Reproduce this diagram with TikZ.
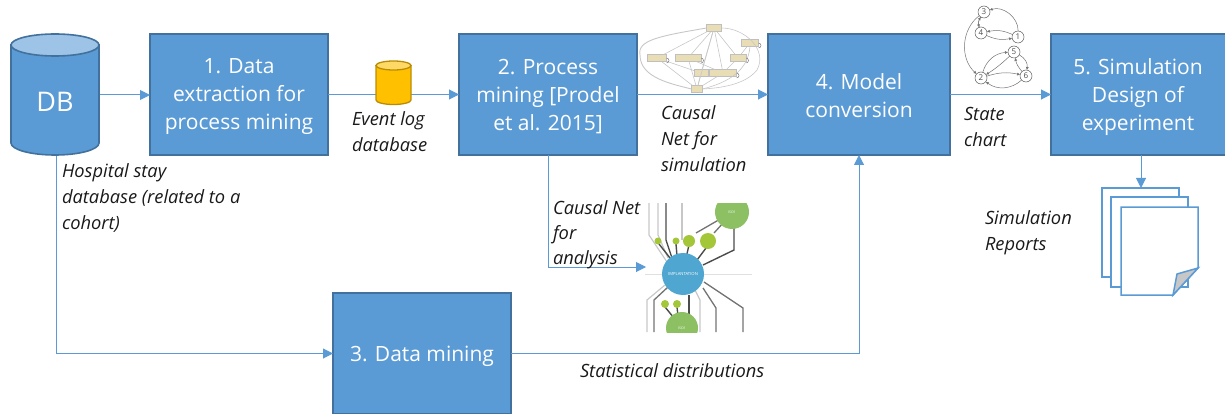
\documentclass[tikz,border=0pt]{standalone}
\usepackage{fontspec}
\setmainfont{Open Sans}
\usetikzlibrary{arrows.meta}
\definecolor{bfill}{HTML}{5B9BD5}
\definecolor{bedge}{HTML}{41719C}
\definecolor{btop}{HTML}{9DC3E6}
\definecolor{ycol}{HTML}{FFC000}
\definecolor{yedge}{HTML}{BC8C00}
\definecolor{ytop}{HTML}{FFD966}
\definecolor{tan}{HTML}{E9DDB5}
\definecolor{lgreen}{HTML}{A4C739}
\definecolor{mgreen}{HTML}{8CC063}
\definecolor{cblue}{HTML}{4FA6D1}
\tikzset{
  every node/.style={inner sep=0pt,outer sep=0pt},
  stepbox/.style={draw=bedge,fill=bfill,line width=1.6pt},
  steptext/.style={text=white,align=center,font=\fontsize{21}{28}\selectfont},
  flow/.style={draw=bfill,line width=1pt,-{Triangle[length=10pt,width=10pt]}},
  lab/.style={font=\fontsize{18.3}{25.8}\selectfont\itshape,align=left,anchor=north west,text=black!90},
  cylbody/.style={draw=bedge,fill=bfill,line width=1.6pt},
  cyltop/.style={draw=bedge,fill=btop,line width=1.6pt},
  ycylbody/.style={draw=yedge,fill=ycol,line width=1.3pt},
  ycyltop/.style={draw=yedge,fill=ytop,line width=1.3pt},
  page/.style={draw=bfill,line width=1.5pt,fill=white},
  state/.style={circle,draw=black!65,fill=white,line width=.5pt,minimum size=12pt,font=\fontsize{8}{8}\selectfont,text=black!70},
  stedge/.style={draw=black!55,line width=.5pt,-{Latex[length=3pt,width=3pt]}},
  tanbox/.style={fill=tan,draw=black!25,line width=.3pt,minimum height=7pt},
  cnedge/.style={draw=black!22,line width=.6pt},
  cnloop/.style={draw=black!50,line width=.5pt},
  dkline/.style={draw=black!70,line width=1.4pt},
  ltline/.style={draw=black!22,line width=1.2pt},
  grline/.style={draw=black!55,line width=1.3pt}
}
\begin{document}
\begin{tikzpicture}[x=1pt,y=-1pt]
\useasboundingbox (0,0) rectangle (1225,414);

\node[stepbox,minimum width=178pt,minimum height=121pt] (b1) at (239,94.5) {};
\node[stepbox,minimum width=178pt,minimum height=121pt] (b2) at (548,94.5) {};
\node[stepbox,minimum width=182pt,minimum height=121pt] (b4) at (859,94.5) {};
\node[stepbox,minimum width=176pt,minimum height=121pt] (b5) at (1139,94.5) {};
\node[stepbox,minimum width=178pt,minimum height=121pt] (b3) at (422,353.5) {};
\node[steptext] (tb1) at (239,97) {1. Data\\extraction for\\process mining};
\node[steptext] (tb2) at (548,97) {2. Process\\mining [Prodel\\et al. 2015]};
\node[steptext] (tb4) at (859,96) {4. Model\\conversion};
\node[steptext] (tb5) at (1138,97) {5. Simulation\\Design of\\experiment};
\node[steptext] (tb3) at (422,356.5) {3. Data mining};

\coordinate (dbright) at (99,95);
\coordinate (dbout) at (56,155);
\coordinate (b1in) at (150,95);
\coordinate (docin) at (1141,188);
\coordinate (b5out) at (1141,155);
\coordinate (anain) at (646,267);

\draw[flow] (dbright) -- (b1in);
\draw[flow] (b1.east) -- (b2.west);
\draw[flow] (b2.east) -- (b4.west);
\draw[flow] (b4.east) -- (b5.west);
\draw[flow] (b5out) -- (docin);
\draw[flow] (dbout) |- (b3.west);
\draw[flow] (b2.south) |- (anain);
\draw[flow] (b3.east) -| (b4.south);

% DB cylinder
\draw[cylbody] (11,45) -- (11,143) arc[start angle=180,end angle=0,x radius=44pt,y radius=-12pt] -- (99,45) -- cycle;
\draw[cyltop] (55,45) ellipse[x radius=44pt,y radius=11pt];
\node[text=white,font=\fontsize{27}{27}\selectfont] (db) at (55,102) {DB};

% Event log cylinder
\draw[ycylbody] (376,65.5) -- (376,100) arc[start angle=180,end angle=0,x radius=17.5pt,y radius=-4.5pt] -- (411,65.5) -- cycle;
\draw[ycyltop] (393.5,65.5) ellipse[x radius=17.5pt,y radius=4.5pt];

% labels
\node[lab] (t1) at (62,164) {Hospital stay\\database (related to a\\cohort)};
\node[lab] (t2) at (352,112) {Event log\\database};
\node[lab] (t3) at (661,106) {Causal\\Net for\\simulation};
\node[lab] (t4) at (553,200.5) {Causal Net\\[-1pt]for\\[-1pt]analysis};
\node[lab] (t5) at (964,107) {State\\chart};
\node[lab] (t6) at (985,211) {Simulation\\Reports};
\node[lab] (t7) at (580,364) {Statistical distributions};

% report pages
\draw[page] (1102,188) rectangle (1179,277);
\draw[page] (1111,197) rectangle (1188,287);
\draw[page] (1121,207) -- (1198,207) -- (1198,268) -- (1173,295) -- (1121,295) -- cycle;
\draw[draw=bfill,line width=1.5pt,fill=black!22] (1198,268) -- (1177,274) -- (1173,295) -- cycle;

% causal net for simulation
\node[tanbox,minimum width=15pt] (n0) at (714,28) {};
\node[tanbox,minimum width=17pt] (n1) at (750,43) {};
\node[tanbox,minimum width=19pt] (n2) at (657,58) {};
\node[tanbox,minimum width=26pt] (n3) at (688,58) {};
\node[tanbox,minimum width=16pt] (n4) at (738,58) {};
\node[tanbox,minimum width=14pt] (n5) at (701,73) {};
\node[tanbox,minimum width=27pt] (n6) at (723,73) {};
\node[tanbox,minimum width=11pt] (n7) at (697,89) {};
\draw[cnedge] (n0) -- (n2);
\draw[cnedge] (n0) -- (n3);
\draw[cnedge] (n0) -- (n4);
\draw[cnedge] (n0) -- (n5);
\draw[cnedge] (n0) -- (n6);
\draw[cnedge] (n0) -- (n7);
\draw[cnedge] (n2) -- (n5);
\draw[cnedge] (n2) -- (n7);
\draw[cnedge] (n3) -- (n6);
\draw[cnedge] (n3) -- (n7);
\draw[cnedge] (n4) -- (n6);
\draw[cnedge] (n1) -- (n4);
\draw[cnedge] (n5) -- (n7);
\draw[cnedge] (n6) -- (n7);
\draw[cnedge,line width=.9pt] (n0.west) .. controls (660,36) and (637,40) .. (640,55) .. controls (640,78) and (672,84) .. (n7.west);
\draw[cnedge] (n0.east) .. controls (745,28) and (768,50) .. (757,70) .. controls (745,85) and (720,88) .. (n7.east);
\draw[cnedge] (n1.south) .. controls (748,70) and (730,82) .. (n7.east);
\draw[cnloop] (n1.east) arc[start angle=90,end angle=-90,radius=2.5pt];
\draw[cnloop] (n2.east) arc[start angle=90,end angle=-90,radius=2.5pt];
\draw[cnloop] (n3.east) arc[start angle=90,end angle=-90,radius=2.5pt];
\draw[cnloop] (n4.east) arc[start angle=90,end angle=-90,radius=2.5pt];
\draw[cnloop] (n6.east) arc[start angle=90,end angle=-90,radius=2.5pt];

% state chart
\node[state] (s3) at (984,12) {3};
\node[state] (s4) at (981,33) {4};
\node[state] (s1) at (1018,37) {1};
\node[state] (s5) at (1014,52) {5};
\node[state] (s2) at (981,78) {2};
\node[state] (s6) at (1026,76) {6};
\draw[stedge] (s1) to[bend right=55] (s3);
\draw[stedge] (s1) to[bend right=18] (s4);
\draw[stedge] (s4) to[bend right=18] (s1);
\draw[stedge] (s4) to[bend left=25] (s3);
\draw[stedge] (s3) to[bend right=25] (s4);
\draw[stedge] (s3) to[bend right=50] (s2);
\draw[stedge] (s2) to[bend left=35] (s5);
\draw[stedge] (s5) to[bend left=5] (s2);
\draw[stedge] (s2) to[bend left=15] (s6);
\draw[stedge] (s6) to[bend left=40] (s2);
\draw[stedge] (s5) to[bend left=35] (s6);
\draw[stedge] (s6) to[bend left=15] (s5);

% causal net for analysis
\begin{scope}
\clip (645,203) rectangle (752,332);
\draw[ltline] (649,203) -- (649,235) -- (667,262);
\draw[ltline] (658,203) -- (658,235) -- (668,258);
\draw[dkline] (666,203) -- (666,240) -- (672,258);
\draw[ltline] (682,203) -- (682,240);
\draw[ltline] (647,332) -- (647,300) -- (665,285);
\draw[grline] (654,332) -- (654,300) -- (668,287);
\draw[ltline] (700,332) -- (700,300) -- (695,290);
\draw[grline] (716,332) -- (716,308) -- (703,288);
\draw[grline] (743,332) -- (743,308) -- (704,282);
\draw[dkline] (734,225) -- (734,250) -- (703,265);
\draw[grline] (696,233) -- (722,218);
\draw[grline] (714,233) -- (724,222);
\draw[dkline] (689,245) -- (686,258);
\draw[dkline] (706,248) -- (697,260);
\draw[dkline] (659,244) -- (670,258);
\draw[dkline] (676,244) -- (677,256);
\draw[dkline] (665,307) -- (674,318);
\draw[dkline] (677,307) -- (678,316);
\draw[dkline] (689,295) -- (689,314);
\draw[black!12,line width=.6pt] (645,274) -- (752,274);
\node[circle,fill=cblue,minimum size=42pt,text=white,font=\fontsize{4.2}{4.2}\selectfont] (impl) at (683,274) {IMPLANTATION};
\node[circle,fill=mgreen,minimum size=34pt,text=white,font=\fontsize{3.5}{3.5}\selectfont] (g1) at (732,212) {ISO1};
\node[circle,fill=mgreen,minimum size=32pt,text=white,font=\fontsize{3.5}{3.5}\selectfont] (g2) at (682,328) {ISO1};
\node[circle,fill=lgreen,minimum size=7pt] (g3) at (658,241) {};
\node[circle,fill=lgreen,minimum size=7pt] (g4) at (676,241) {};
\node[circle,fill=lgreen,minimum size=12pt] (g5) at (689,241) {};
\node[circle,fill=lgreen,minimum size=16pt] (g6) at (708,241) {};
\node[circle,fill=lgreen,minimum size=8pt] (g7) at (665,304) {};
\node[circle,fill=lgreen,minimum size=8pt] (g8) at (677,304) {};
\end{scope}
\end{tikzpicture}
\end{document}
